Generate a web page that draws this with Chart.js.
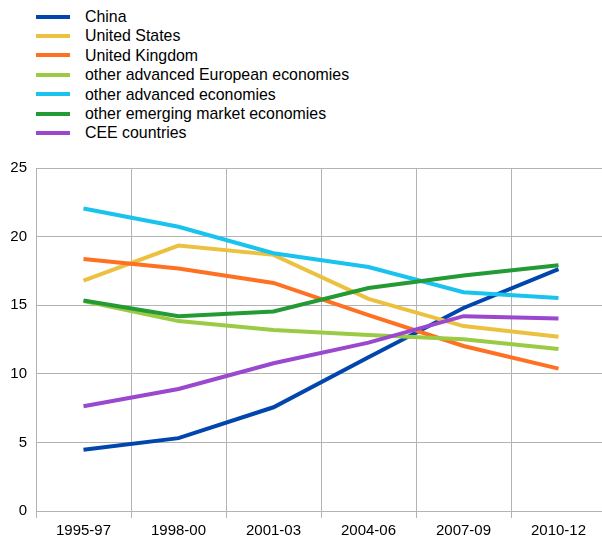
<!DOCTYPE html>
<html>
<head>
<meta charset="utf-8">
<script src="https://cdn.jsdelivr.net/npm/chart.js@4.4.1/dist/chart.umd.min.js"></script>
<style>
  html, body { margin: 0; padding: 0; background: #fff; overflow: hidden; width: 602px; height: 541px; }
  #wrap { position: relative; width: 602px; height: 541px; overflow: hidden; }
  #legend { position: absolute; left: 36px; top: 7px; margin: 0; padding: 0; list-style: none;
            font-family: "Liberation Sans", Arial, sans-serif; font-size: 15.9px; color: #000; }
  #legend li { height: 19.4px; line-height: 19.4px; display: flex; align-items: center; white-space: nowrap; }
  #legend .sw { display: inline-block; width: 34px; height: 4px; margin-right: 15px; }
  #cbox { position: absolute; left: 0; top: 150px; width: 606px; height: 391px; }
</style>
</head>
<body>
<div id="wrap">
  <ul id="legend"></ul>
  <div id="cbox"><canvas id="c"></canvas></div>
</div>
<script>
const categories = ["1995-97", "1998-00", "2001-03", "2004-06", "2007-09", "2010-12"];
const seriesNames = ["China", "United States", "United Kingdom", "other advanced European economies",
                     "other advanced economies", "other emerging market economies", "CEE countries"];
const china        = [4.47, 5.31, 7.56, 11.2, 14.8, 17.63];
const unitedStates = [16.79, 19.35, 18.67, 15.46, 13.48, 12.70];
const unitedKingdom= [18.36, 17.68, 16.62, 14.28, 12.03, 10.38];
const otherAdvEur  = [15.30, 13.84, 13.19, 12.83, 12.51, 11.81];
const otherAdv     = [22.05, 20.72, 18.79, 17.78, 15.94, 15.53];
const otherEmerg   = [15.34, 14.20, 14.54, 16.25, 17.17, 17.92];
const cee          = [7.63, 8.89, 10.77, 12.27, 14.20, 14.03];
const yTicks = [0, 5, 10, 15, 20, 25];

const colors = ["#0046ad", "#ecc13f", "#ff7122", "#9bcb45", "#19c3ee", "#249a34", "#9a48cd"];
const values = [china, unitedStates, unitedKingdom, otherAdvEur, otherAdv, otherEmerg, cee];

const datasets = values.map((v, i) => ({
  label: seriesNames[i],
  data: v,
  borderColor: colors[i],
  backgroundColor: colors[i],
  borderWidth: 4,
  pointRadius: 0,
  tension: 0,
  fill: false,
  order: values.length - i
}));

const legend = document.getElementById('legend');
seriesNames.forEach((n, i) => {
  const li = document.createElement('li');
  const sw = document.createElement('span');
  sw.className = 'sw';
  sw.style.background = colors[i];
  li.appendChild(sw);
  li.appendChild(document.createTextNode(n));
  legend.appendChild(li);
});

const font = { family: '"Liberation Sans", Arial, sans-serif', size: 15 };

new Chart(document.getElementById('c'), {
  type: 'line',
  data: { labels: categories, datasets },
  options: {
    responsive: true,
    maintainAspectRatio: false,
    animation: false,
    layout: { padding: { top: 16, right: 0, left: 0, bottom: 0 } },
    plugins: { legend: { display: false }, tooltip: { enabled: false } },
    scales: {
      x: {
        type: 'category',
        offset: true,
        grid: { offset: true, color: '#b3b3b3', lineWidth: 1, drawTicks: true, tickLength: 7, tickColor: '#b3b3b3' },
        border: { color: '#b3b3b3' },
        ticks: { color: '#000', font, padding: 4, maxRotation: 0, autoSkip: false },
        afterFit(s) { s.height = 30; }
      },
      y: {
        min: 0, max: 25,
        afterBuildTicks(s) { s.ticks = yTicks.map(v => ({ value: v })); },
        grid: { color: '#b3b3b3', lineWidth: 1, drawTicks: false },
        border: { color: '#b3b3b3' },
        ticks: { color: '#000', font, padding: 9 },
        afterFit(s) { s.width = 36; }
      }
    }
  }
});
</script>
</body>
</html>
